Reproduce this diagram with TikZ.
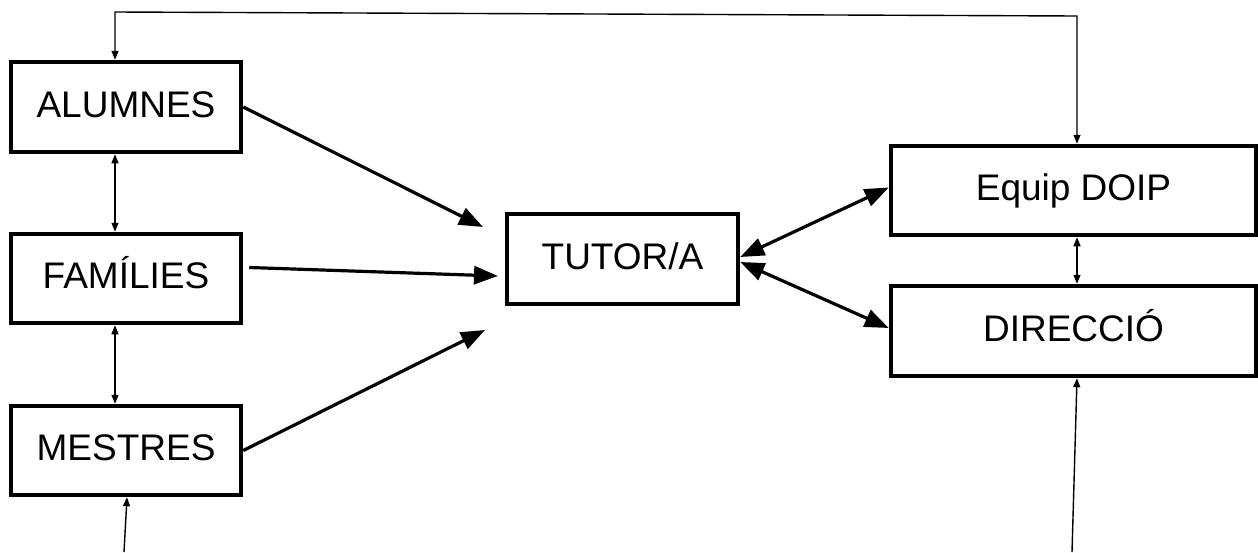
\documentclass[tikz,border=0pt]{standalone}
\usepackage{fontspec}
\setmainfont{Liberation Sans}
\usetikzlibrary{arrows.meta}

\begin{document}
\begin{tikzpicture}[x=1pt,y=-1pt,
    box/.style={draw, line width=4.5pt, minimum width=230pt, minimum height=90pt, inner sep=0pt,
        text height=27pt, text depth=7pt, font=\fontsize{37}{44}\selectfont},
    flow/.style={line width=3.2pt, -{Triangle[length=24pt,width=18pt]}},
    flowboth/.style={line width=3.2pt, {Triangle[length=24pt,width=18pt]}-{Triangle[length=24pt,width=18pt]}},
    link/.style={line width=1.4pt, -{Triangle[length=9pt,width=7pt]}},
    linkboth/.style={line width=1.4pt, {Triangle[length=9pt,width=7pt]}-{Triangle[length=9pt,width=7pt]}}]
    \useasboundingbox (0,0) rectangle (1258,552);

    \node[box] (alumnes) at (126,107) {ALUMNES};
    \node[box, minimum height=89pt] (families) at (126,278.5) {FAMÍLIES};
    \node[box, minimum height=89pt] (mestres) at (126,450.5) {MESTRES};
    \node[box, minimum width=231pt] (tutor) at (622.5,259) {TUTOR/A};
    \node[box, minimum width=365pt, minimum height=89pt] (doip) at (1073.5,190.5) {Equip DOIP};
    \node[box, minimum width=365pt] (direccio) at (1073.5,331) {DIRECCIÓ};

    \coordinate (topL) at (115,12);
    \coordinate (topR) at (1077,16);
    \coordinate (tipA) at (483,227);
    \coordinate (tipF) at (498,276);
    \coordinate (tipM) at (485,330);
    \coordinate (footM) at (124,552);
    \coordinate (footD) at (1072,552);

    \draw[flow] (alumnes.east) -- (tipA);
    \draw[flow] ([xshift=6pt,yshift=11pt]families.east) -- (tipF);
    \draw[flow] (mestres.east) -- (tipM);

    \draw[flowboth] ([yshift=2pt]tutor.east) -- ([yshift=3pt]doip.west);
    \draw[flowboth] ([yshift=-3pt]tutor.east) -- ([yshift=3pt]direccio.west);

    \draw[linkboth] (alumnes.north -| topL) -- (topL) -- (topR) -- (doip.north -| topR);
    \draw[linkboth] (alumnes.south -| topL) -- (families.north -| topL);
    \draw[linkboth] (families.south -| topL) -- (mestres.north -| topL);
    \draw[linkboth] (doip.south -| topR) -- (direccio.north -| topR);
    \draw[link] (footM) -- ([xshift=1pt]mestres.south);
    \draw[link] (footD) -- ([xshift=3.5pt]direccio.south);
\end{tikzpicture}
\end{document}
